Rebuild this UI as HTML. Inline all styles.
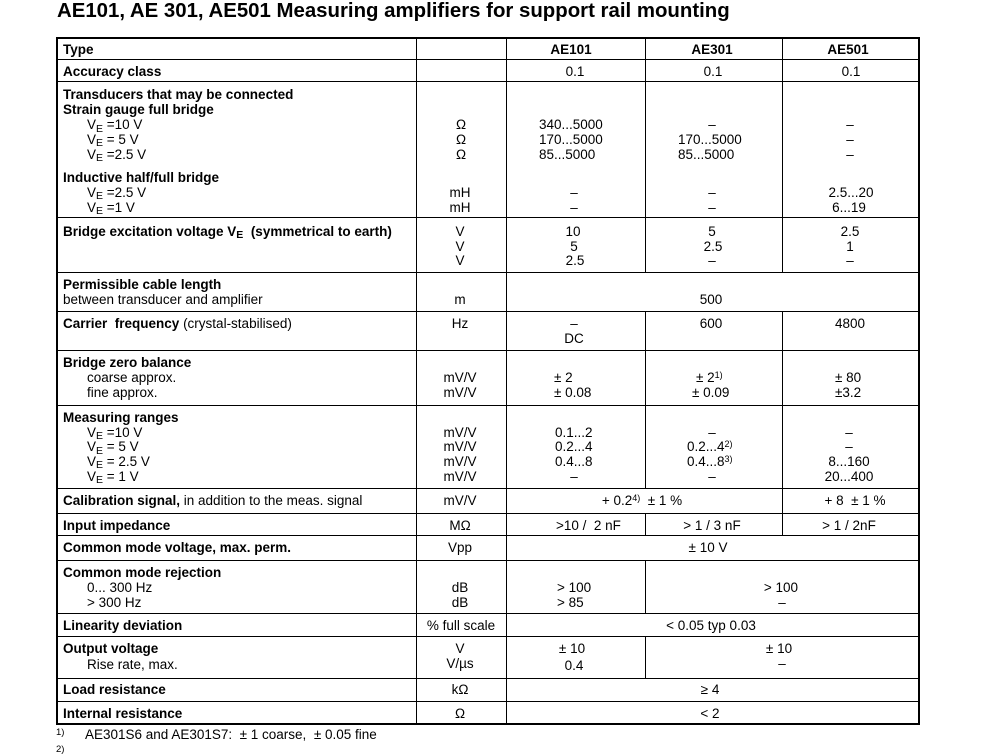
<!DOCTYPE html>
<html><head><meta charset="utf-8">
<style>
html,body{margin:0;padding:0;background:#fff;}
body{width:999px;height:748px;position:relative;overflow:hidden;font-family:"Liberation Sans",Arial,Helvetica,sans-serif;color:#000;}
.t{position:absolute;white-space:nowrap;font-size:13.5px;line-height:15px;}
.b{font-weight:bold;}
.c{width:240px;margin-left:-120px;text-align:center;}
.s{font-size:10.5px;position:relative;top:2.5px;}
.u{font-size:9px;position:relative;top:-4px;}
.title{position:absolute;left:57px;top:-0.3px;font-size:20.4px;line-height:23px;font-weight:bold;white-space:nowrap;}
svg{position:absolute;left:0;top:0;}
</style></head><body>
<div class="title">AE101, AE 301, AE501 Measuring amplifiers for support rail mounting</div>

<svg width="999" height="748" xmlns="http://www.w3.org/2000/svg">
<g fill="#000">
<rect x="58" y="59" width="860" height="1"/>
<rect x="58" y="81" width="860" height="1"/>
<rect x="58" y="217" width="860" height="1"/>
<rect x="58" y="272" width="860" height="1"/>
<rect x="58" y="311" width="860" height="1"/>
<rect x="58" y="350" width="860" height="1"/>
<rect x="58" y="405" width="860" height="1"/>
<rect x="58" y="488" width="860" height="1"/>
<rect x="58" y="513" width="860" height="1"/>
<rect x="58" y="535" width="860" height="1"/>
<rect x="58" y="560" width="860" height="1"/>
<rect x="58" y="613" width="860" height="1"/>
<rect x="58" y="636" width="860" height="1"/>
<rect x="58" y="678" width="860" height="1"/>
<rect x="58" y="701" width="860" height="1"/>
<rect x="416" y="39" width="1" height="684"/>
<rect x="506" y="39" width="1" height="684"/>
<rect x="645" y="39" width="1" height="233"/>
<rect x="645" y="311" width="1" height="177"/>
<rect x="645" y="513" width="1" height="22"/>
<rect x="645" y="560" width="1" height="53"/>
<rect x="645" y="636" width="1" height="42"/>
<rect x="782" y="39" width="1" height="233"/>
<rect x="782" y="311" width="1" height="224"/>
</g>
<rect x="57" y="38" width="862" height="686" fill="none" stroke="#000" stroke-width="2"/>
</svg>

<!-- Labels -->
<div class="t b" style="left:63px;top:42.1px">Type</div>
<div class="t b" style="left:63px;top:63.8px">Accuracy class</div>
<div class="t b" style="left:63px;top:87.1px">Transducers that may be connected</div>
<div class="t b" style="left:63px;top:102.1px">Strain gauge full bridge</div>
<div class="t" style="left:87px;top:117.1px">V<span class="s">E</span> =10 V</div>
<div class="t" style="left:87px;top:131.8px">V<span class="s">E</span> = 5 V</div>
<div class="t" style="left:87px;top:146.5px">V<span class="s">E</span> =2.5 V</div>
<div class="t b" style="left:63px;top:169.5px">Inductive half/full bridge</div>
<div class="t" style="left:87px;top:184.8px">V<span class="s">E</span> =2.5 V</div>
<div class="t" style="left:87px;top:199.5px">V<span class="s">E</span> =1 V</div>
<div class="t b" style="left:63px;top:223.8px">Bridge excitation voltage V<span class="s">E</span>&nbsp; (symmetrical to earth)</div>
<div class="t b" style="left:63px;top:276.8px">Permissible cable length</div>
<div class="t" style="left:63px;top:291.8px">between transducer and amplifier</div>
<div class="t" style="left:63px;top:315.5px"><b>Carrier&nbsp; frequency</b> (crystal-stabilised)</div>
<div class="t b" style="left:63px;top:354.5px">Bridge zero balance</div>
<div class="t" style="left:87px;top:369.5px">coarse approx.</div>
<div class="t" style="left:87px;top:384.5px">fine approx.</div>
<div class="t b" style="left:63px;top:409.5px">Measuring ranges</div>
<div class="t" style="left:87px;top:424.5px">V<span class="s">E</span> =10 V</div>
<div class="t" style="left:87px;top:439.1px">V<span class="s">E</span> = 5 V</div>
<div class="t" style="left:87px;top:453.8px">V<span class="s">E</span> = 2.5 V</div>
<div class="t" style="left:87px;top:468.8px">V<span class="s">E</span> = 1 V</div>
<div class="t" style="left:63px;top:492.8px"><b>Calibration signal,</b> in addition to the meas. signal</div>
<div class="t b" style="left:63px;top:517.8px">Input impedance</div>
<div class="t b" style="left:63px;top:540.1px">Common mode voltage, max. perm.</div>
<div class="t b" style="left:63px;top:564.5px">Common mode rejection</div>
<div class="t" style="left:87px;top:579.5px">0... 300 Hz</div>
<div class="t" style="left:87px;top:594.5px">&gt; 300 Hz</div>
<div class="t b" style="left:63px;top:617.8px">Linearity deviation</div>
<div class="t b" style="left:63px;top:640.5px">Output voltage</div>
<div class="t" style="left:87px;top:657.1px">Rise rate, max.</div>
<div class="t b" style="left:63px;top:682.1px">Load resistance</div>
<div class="t b" style="left:63px;top:705.5px">Internal resistance</div>

<!-- Units -->
<div class="t c" style="left:461px;top:117.1px">Ω</div>
<div class="t c" style="left:461px;top:131.8px">Ω</div>
<div class="t c" style="left:461px;top:146.5px">Ω</div>
<div class="t c" style="left:460px;top:184.8px">mH</div>
<div class="t c" style="left:460px;top:199.5px">mH</div>
<div class="t c" style="left:460px;top:223.8px">V</div>
<div class="t c" style="left:460px;top:238.5px">V</div>
<div class="t c" style="left:460px;top:252.8px">V</div>
<div class="t c" style="left:460px;top:291.8px">m</div>
<div class="t c" style="left:460px;top:315.5px">Hz</div>
<div class="t c" style="left:460px;top:369.5px">mV/V</div>
<div class="t c" style="left:460px;top:384.5px">mV/V</div>
<div class="t c" style="left:460px;top:424.5px">mV/V</div>
<div class="t c" style="left:460px;top:439.1px">mV/V</div>
<div class="t c" style="left:460px;top:453.8px">mV/V</div>
<div class="t c" style="left:460px;top:468.8px">mV/V</div>
<div class="t c" style="left:460px;top:492.8px">mV/V</div>
<div class="t c" style="left:460px;top:517.8px">MΩ</div>
<div class="t c" style="left:460px;top:540.1px">Vpp</div>
<div class="t c" style="left:460px;top:579.5px">dB</div>
<div class="t c" style="left:460px;top:594.5px">dB</div>
<div class="t c" style="left:461px;top:617.8px">% full scale</div>
<div class="t c" style="left:460px;top:640.5px">V</div>
<div class="t c" style="left:460px;top:655.8px">V/µs</div>
<div class="t c" style="left:460px;top:682.1px">kΩ</div>
<div class="t c" style="left:460px;top:705.5px">Ω</div>

<!-- Header -->
<div class="t c b" style="left:571px;top:42.1px">AE101</div>
<div class="t c b" style="left:712px;top:42.1px">AE301</div>
<div class="t c b" style="left:848px;top:42.1px">AE501</div>
<div class="t c" style="left:575px;top:63.8px">0.1</div>
<div class="t c" style="left:713px;top:63.8px">0.1</div>
<div class="t c" style="left:851px;top:63.8px">0.1</div>

<!-- Strain gauge -->
<div class="t" style="left:539px;top:117.1px">340...5000</div>
<div class="t" style="left:539px;top:131.8px">170...5000</div>
<div class="t" style="left:539px;top:146.5px">85...5000</div>
<div class="t c" style="left:712px;top:117.1px">–</div>
<div class="t" style="left:678px;top:131.8px">170...5000</div>
<div class="t" style="left:678px;top:146.5px">85...5000</div>
<div class="t c" style="left:850px;top:117.1px">–</div>
<div class="t c" style="left:850px;top:131.8px">–</div>
<div class="t c" style="left:850px;top:146.5px">–</div>
<!-- Inductive -->
<div class="t c" style="left:574px;top:184.8px">–</div>
<div class="t c" style="left:574px;top:199.5px">–</div>
<div class="t c" style="left:712px;top:184.8px">–</div>
<div class="t c" style="left:712px;top:199.5px">–</div>
<div class="t c" style="left:851px;top:184.8px">2.5...20</div>
<div class="t c" style="left:849px;top:199.5px">6...19</div>
<!-- Excitation -->
<div class="t c" style="left:573px;top:223.8px">10</div>
<div class="t c" style="left:574px;top:238.5px">5</div>
<div class="t c" style="left:575px;top:252.8px">2.5</div>
<div class="t c" style="left:712px;top:223.8px">5</div>
<div class="t c" style="left:713px;top:238.5px">2.5</div>
<div class="t c" style="left:712px;top:252.8px">–</div>
<div class="t c" style="left:850px;top:223.8px">2.5</div>
<div class="t c" style="left:850px;top:238.5px">1</div>
<div class="t c" style="left:850px;top:252.8px">–</div>
<!-- Cable -->
<div class="t c" style="left:711px;top:291.8px">500</div>
<!-- Carrier -->
<div class="t c" style="left:574px;top:315.5px">–</div>
<div class="t c" style="left:574px;top:330.5px">DC</div>
<div class="t c" style="left:711px;top:315.5px">600</div>
<div class="t c" style="left:850px;top:315.5px">4800</div>
<!-- Bridge zero -->
<div class="t" style="left:554px;top:369.5px">± 2</div>
<div class="t" style="left:554px;top:384.5px">± 0.08</div>
<div class="t" style="left:696px;top:369.5px">± 2<span class="u">1)</span></div>
<div class="t" style="left:692px;top:384.5px">± 0.09</div>
<div class="t" style="left:835px;top:369.5px">± 80</div>
<div class="t" style="left:835px;top:384.5px">±3.2</div>
<!-- Measuring ranges -->
<div class="t" style="left:555px;top:424.5px">0.1...2</div>
<div class="t" style="left:555px;top:439.1px">0.2...4</div>
<div class="t" style="left:555px;top:453.8px">0.4...8</div>
<div class="t c" style="left:574px;top:468.8px">–</div>
<div class="t c" style="left:712px;top:424.5px">–</div>
<div class="t" style="left:687px;top:439.1px">0.2...4<span class="u">2)</span></div>
<div class="t" style="left:687px;top:453.8px">0.4...8<span class="u">3)</span></div>
<div class="t c" style="left:712px;top:468.8px">–</div>
<div class="t c" style="left:849px;top:424.5px">–</div>
<div class="t c" style="left:849px;top:439.1px">–</div>
<div class="t c" style="left:849px;top:453.8px">8...160</div>
<div class="t c" style="left:849px;top:468.8px">20...400</div>
<!-- Calibration -->
<div class="t c" style="left:642px;top:492.8px">+ 0.2<span class="u">4)</span>&nbsp; ± 1 %</div>
<div class="t c" style="left:855px;top:492.8px">+ 8 &nbsp;± 1 %</div>
<!-- Input impedance -->
<div class="t" style="left:556px;top:517.8px">&gt;10 / &nbsp;2 nF</div>
<div class="t c" style="left:712px;top:517.8px">&gt; 1 / 3 nF</div>
<div class="t c" style="left:849px;top:517.8px">&gt; 1 / 2nF</div>
<!-- CMV -->
<div class="t c" style="left:708px;top:540.1px">± 10 V</div>
<!-- CMR -->
<div class="t" style="left:557px;top:579.5px">&gt; 100</div>
<div class="t" style="left:557px;top:594.5px">&gt; 85</div>
<div class="t c" style="left:781px;top:579.5px">&gt; 100</div>
<div class="t c" style="left:782px;top:594.5px">–</div>
<!-- Linearity -->
<div class="t c" style="left:711px;top:617.8px">&lt; 0.05 typ 0.03</div>
<!-- Output -->
<div class="t c" style="left:572px;top:640.5px">± 10</div>
<div class="t c" style="left:574px;top:657.8px">0.4</div>
<div class="t c" style="left:779px;top:640.5px">± 10</div>
<div class="t c" style="left:782px;top:655.8px">–</div>
<!-- Load / Internal -->
<div class="t c" style="left:710px;top:682.1px">≥ 4</div>
<div class="t c" style="left:710px;top:705.5px">&lt; 2</div>

<!-- Footnotes -->
<div class="t" style="left:56px;top:727.5px;font-size:9.5px;line-height:10px">1)</div>
<div class="t" style="left:85px;top:726.8px">AE301S6 and AE301S7: &nbsp;± 1 coarse, &nbsp;± 0.05 fine</div>
<div class="t" style="left:56px;top:744.5px;font-size:9.5px;line-height:10px">2)</div>
</body></html>
